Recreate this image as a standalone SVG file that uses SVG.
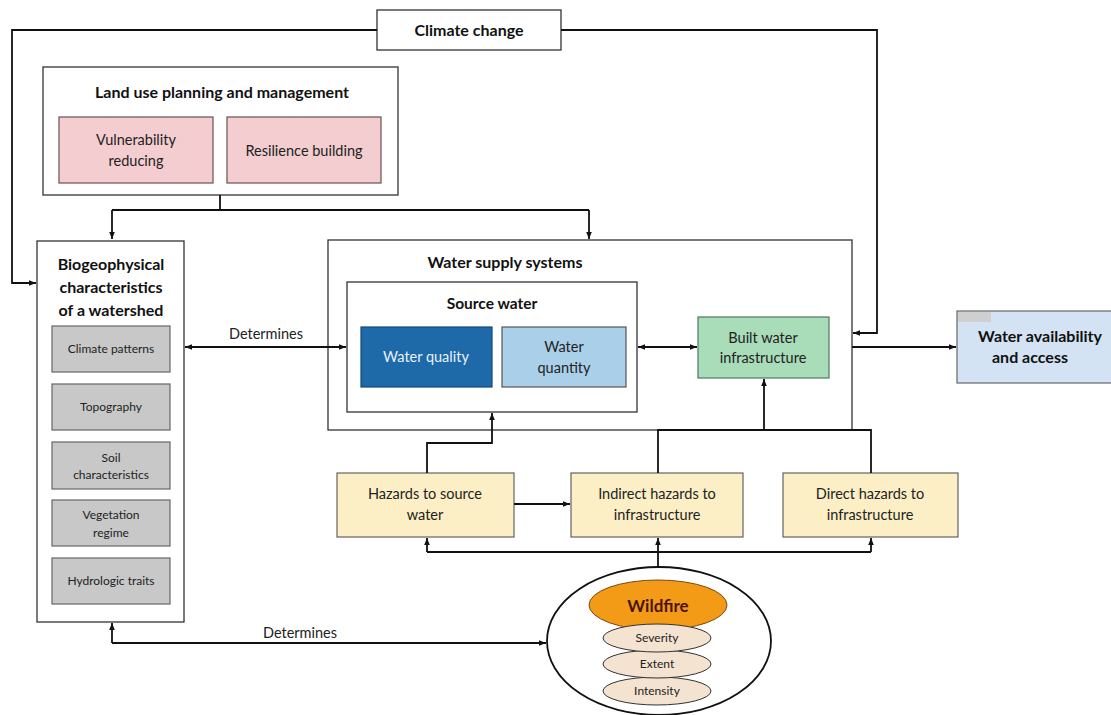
<svg xmlns="http://www.w3.org/2000/svg" width="1111" height="715" viewBox="0 0 1111 715">
<style>
text{font-family:Lato,"Open Sans","Liberation Sans",sans-serif;fill:#222;text-anchor:middle}
.t{font-size:15.5px;font-weight:bold;fill:#111}
.m{font-size:14.5px}
.s{font-size:12px}
.box{fill:#fff;stroke:#333;stroke-width:1.3}
.pink{fill:#f3cdd0;stroke:#6e5050;stroke-width:1.2}
.gray{fill:#c8c8c8;stroke:#666;stroke-width:1.2}
.haz{fill:#fcefc6;stroke:#555;stroke-width:1.1}
.c{fill:none;stroke:#111;stroke-width:1.8}
.tan{fill:#f4e3d0;stroke:#333;stroke-width:1}
</style>
<defs>
<marker id="ah" viewBox="0 0 10 10" refX="10" refY="5" markerWidth="7" markerHeight="7" orient="auto-start-reverse" markerUnits="userSpaceOnUse">
<path d="M0,1 L10,5 L0,9 z" fill="#111"/>
</marker>
</defs>
<rect width="1111" height="715" fill="#fff"/>

<g id="climate-change">
<rect class="box" x="377" y="10" width="184" height="40"/>
<text class="t" x="469" y="36" style="font-size:16px">Climate change</text>
</g>

<g id="land-use">
<rect class="box" x="43" y="67" width="355" height="128"/>
<text class="t" x="222" y="98" style="font-size:16px">Land use planning and management</text>
<g id="vulnerability">
<rect class="pink" x="59" y="117" width="154" height="66"/>
<text class="m" x="136" y="145">Vulnerability</text>
<text class="m" x="136" y="166">reducing</text>
</g>
<g id="resilience">
<rect class="pink" x="227" y="117" width="154" height="66"/>
<text class="m" x="304" y="156">Resilience building</text>
</g>
</g>

<g id="biogeophysical">
<rect class="box" x="37" y="241" width="147" height="381"/>
<text class="t" x="111" y="270" style="font-size:16px">Biogeophysical</text>
<text class="t" x="111" y="293" style="font-size:16px">characteristics</text>
<text class="t" x="111" y="316" style="font-size:16px">of a watershed</text>
<g id="climate-patterns"><rect class="gray" x="52" y="326" width="118" height="46"/><text class="s" x="111" y="353">Climate patterns</text></g>
<g id="topography"><rect class="gray" x="52" y="384" width="118" height="46"/><text class="s" x="111" y="411">Topography</text></g>
<g id="soil"><rect class="gray" x="52" y="442" width="118" height="47"/><text class="s" x="111" y="462">Soil</text><text class="s" x="111" y="479">characteristics</text></g>
<g id="vegetation"><rect class="gray" x="52" y="500" width="118" height="46"/><text class="s" x="111" y="519">Vegetation</text><text class="s" x="111" y="537">regime</text></g>
<g id="hydrologic"><rect class="gray" x="52" y="558" width="118" height="46"/><text class="s" x="111" y="585">Hydrologic traits</text></g>
</g>

<g id="water-supply">
<rect class="box" x="328" y="240" width="524" height="190"/>
<text class="t" x="505" y="268" style="font-size:16px">Water supply systems</text>
<g id="source-water">
<rect class="box" x="347" y="282" width="290" height="130"/>
<text class="t" x="492" y="309">Source water</text>
<g id="water-quality"><rect x="361" y="327" width="131" height="60" fill="#1e69a8" stroke="#134a78" stroke-width="1.2"/><text class="m" x="426" y="362" style="fill:#e8f2fb">Water quality</text></g>
<g id="water-quantity"><rect x="502" y="327" width="124" height="60" fill="#a9d0e8" stroke="#555" stroke-width="1.2"/><text class="m" x="564" y="352">Water</text><text class="m" x="564" y="373">quantity</text></g>
</g>
<g id="built-infrastructure"><rect x="698" y="317" width="131" height="61" fill="#a9dcb8" stroke="#4d7a5a" stroke-width="1.2"/><text class="m" x="763" y="343">Built water</text><text class="m" x="763" y="363">infrastructure</text></g>
</g>

<g id="water-availability">
<rect x="957" y="311" width="160" height="72" fill="#d3e3f4" stroke="#666" stroke-width="1.2"/>
<rect x="958" y="312" width="33" height="10" fill="#cfcfcf"/>
<text class="t" x="1040" y="342" style="font-size:16px">Water availability</text>
<text class="t" x="1030" y="363" style="font-size:16px">and access</text>
</g>

<g id="hazards-source">
<rect class="haz" x="337" y="473" width="177" height="64"/>
<text class="m" x="425" y="499">Hazards to source</text>
<text class="m" x="425" y="520">water</text>
</g>
<g id="indirect-hazards">
<rect class="haz" x="571" y="473" width="172" height="64"/>
<text class="m" x="657" y="499">Indirect hazards to</text>
<text class="m" x="657" y="520">infrastructure</text>
</g>
<g id="direct-hazards">
<rect class="haz" x="783" y="473" width="175" height="64"/>
<text class="m" x="870" y="499">Direct hazards to</text>
<text class="m" x="870" y="520">infrastructure</text>
</g>

<g id="wildfire">
<ellipse cx="659" cy="641" rx="112" ry="74" fill="#fff" stroke="#111" stroke-width="1.8"/>
<ellipse cx="658" cy="605" rx="69" ry="25" fill="#f39a17" stroke="#7a4a10" stroke-width="1"/>
<text x="658" y="612" style="font-size:17px;font-weight:bold;fill:#4a1508">Wildfire</text>
<g id="intensity"><ellipse class="tan" cx="657" cy="691" rx="54" ry="14"/><text class="s" x="657" y="695">Intensity</text></g>
<g id="extent"><ellipse class="tan" cx="657" cy="664" rx="54" ry="14"/><text class="s" x="657" y="668">Extent</text></g>
<g id="severity"><ellipse class="tan" cx="657" cy="638" rx="54" ry="14"/><text class="s" x="657" y="642">Severity</text></g>
</g>

<g id="connectors">
<path class="c" d="M377,30 H12 V283 H36" marker-end="url(#ah)"/>
<path class="c" d="M561,30 H877 V333 H853" marker-end="url(#ah)"/>
<path class="c" d="M220,195 V210"/>
<path class="c" d="M112,210 H589"/>
<path class="c" d="M112,210 V239" marker-end="url(#ah)"/>
<path class="c" d="M589,210 V239" marker-end="url(#ah)"/>
<path class="c" d="M185,347 H346" marker-start="url(#ah)" marker-end="url(#ah)"/>
<path class="c" d="M638,347 H697" marker-start="url(#ah)" marker-end="url(#ah)"/>
<path class="c" d="M852,347 H956" marker-end="url(#ah)"/>
<path class="c" d="M427,473 V443 H492 V413" marker-end="url(#ah)"/>
<path class="c" d="M658,473 V430 H871 V473"/>
<path class="c" d="M764,430 V379" marker-end="url(#ah)"/>
<path class="c" d="M514,504 H570" marker-end="url(#ah)"/>
<path class="c" d="M427,552 H871"/>
<path class="c" d="M427,552 V538" marker-end="url(#ah)"/>
<path class="c" d="M871,552 V538" marker-end="url(#ah)"/>
<path class="c" d="M658,567 V538" marker-end="url(#ah)"/>
<path class="c" d="M112,643 V623" marker-end="url(#ah)"/>
<path class="c" d="M112,643 H546" marker-end="url(#ah)"/>
<text class="m" x="266" y="339">Determines</text>
<text class="m" x="300" y="638">Determines</text>
</g>
</svg>
